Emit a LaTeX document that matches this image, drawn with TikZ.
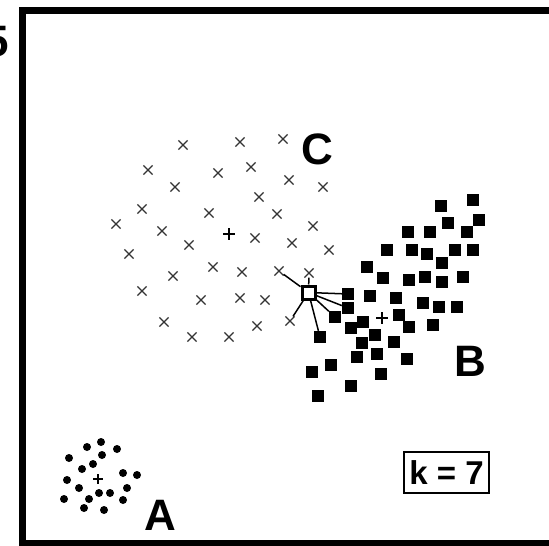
\documentclass[tikz,border=0pt]{standalone}
\usepackage{fontspec}
\setmainfont{Liberation Sans}
\usetikzlibrary{shapes.misc}
\begin{document}
\begin{tikzpicture}[x=1pt,y=-1pt,
  xmark/.style={cross out,draw=black!80,line width=1.2pt,minimum size=8pt,inner sep=0pt},
  sqmark/.style={rectangle,fill=black,minimum size=12pt,inner sep=0pt},
  dotmark/.style={circle,fill=black,minimum size=8pt,inner sep=0pt},
  lab/.style={font=\fontsize{44}{44}\selectfont\bfseries,inner sep=0pt},
  nbline/.style={line width=1.5pt},
  plusmark/.style={line width=2pt}]
\useasboundingbox (0,0) rectangle (549,546);
\clip (0,0) rectangle (549,546);
% frame
\draw[line width=7pt] (22.5,10.5) rectangle (570,543.5);
\node[lab] (five) at (-3,42) {5};
% cluster C (crosses)
\foreach \x/\y [count=\i] in {183/145,240/142,283/139,148/170,218/173,251/167,289/180,323/187,
  175/187,259/197,142/209,209/213,277/214,313/226,116/224,162/231,255/238,292/243,329/250,
  189/245,129/254,213/267,242/272,173/276,142/291,201/300,240/298,265/300,
  164/322,257/326,192/337,229/337}
  \node[xmark] (c\i) at (\x,\y) {};
\node[xmark] (n1) at (279,271) {};
\node[xmark] (n2) at (309,273) {};
\node[xmark] (n7) at (290,321) {};
\draw[plusmark] (223,234) -- (235,234) (229,228) -- (229,240);
% cluster B (squares)
\foreach \x/\y [count=\i] in {473/200,441/206,479/220,448/223,408/232,430/232,467/232,
  387/250,412/250,427/254,455/250,473/250,442/263,367/267,383/278,409/280,425/277,442/282,463/277,
  370/296,396/298,423/303,439/307,457/307,399/315,409/327,433/325,
  351/328,363/322,375/335,362/343,394/342,357/357,377/354,407/359,331/365,312/372,381/374,
  351/386,318/396}
  \node[sqmark] (b\i) at (\x,\y) {};
\node[sqmark] (n3) at (348,294) {};
\node[sqmark] (n4) at (348,308) {};
\node[sqmark] (n5) at (335,317) {};
\node[sqmark] (n6) at (320,337) {};
\draw[plusmark] (376,318) -- (388,318) (382,312) -- (382,324);
% cluster A (dots)
\foreach \x/\y [count=\i] in {101/442,87/447,117/449,69/458,102/455,93/464,82/469,123/473,
  137/475,67/480,79/488,127/488,99/493,110/493,89/499,64/499,123/500,84/508,104/510}
  \node[dotmark] (a\i) at (\x,\y) {};
\draw[line width=1.5pt] (93,479) -- (103,479) (98,474) -- (98,484);
% query point and its 7 nearest neighbours
\node[rectangle,draw,line width=3pt,fill=white,minimum size=13pt,inner sep=0pt] (q) at (308.5,292.5) {};
\foreach \n in {n1,n2,n3,n4,n5,n6,n7}
  \draw[nbline] (q) -- (\n);
% labels
\node[lab] (labC) at (317,149) {C};
\node[lab] (labB) at (470,361) {B};
\node[lab] (labA) at (160,515) {A};
\node[draw,line width=2pt,minimum width=85pt,minimum height=41pt,inner sep=0pt,
  font=\fontsize{33}{33}\selectfont\bfseries] (k) at (446.5,472.5) {k = 7};
\end{tikzpicture}
\end{document}
